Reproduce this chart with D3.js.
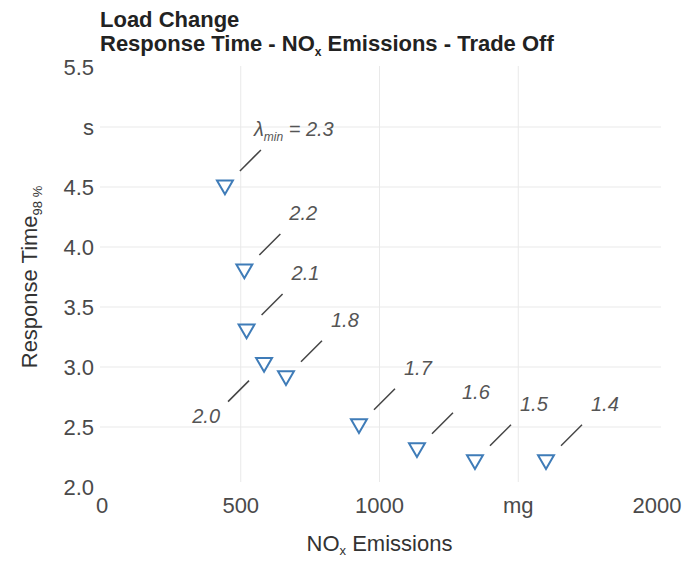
<!DOCTYPE html>
<meta charset="utf-8">

<script src="https://d3js.org/d3.v7.min.js"></script>

<div id="chart"></div>

<style>
  body {
    margin: 0;
    background-color: white;
    font-family: "Liberation Sans", Arial, sans-serif;
  }
</style>

<script>

// values
var lambdas = ["2.3", "2.2", "2.1", "2.0", "1.8", "1.7", "1.6", "1.5", "1.4"]
var noxValues = [443, 513, 521, 584, 663, 926, 1135, 1344, 1600]
var timeValues = [4.5, 3.8, 3.3, 3.02, 2.91, 2.51, 2.31, 2.21, 2.21]

var xTicks = [0, 500, 1000, 1500, 2000]
var xTickLabels = ["0", "500", "1000", "mg", "2000"]
var yTicks = [2.0, 2.5, 3.0, 3.5, 4.0, 4.5, 5.0, 5.5]
var yTickLabels = ["2.0", "2.5", "3.0", "3.5", "4.0", "4.5", "s", "5.5"]

var width = 684, height = 562

var svg = d3.select("#chart").append("svg")
  .attr("width", width)
  .attr("height", height)

var x = d3.scaleLinear()
  .domain([0, 2000])
  .range([102, 657])

var y = d3.scaleLinear()
  .domain([2, 5.5])
  .range([487, 67])

// gridlines, only the inner ticks
svg.append("g")
  .selectAll("line")
  .data(yTicks.slice(1, -1))
  .enter()
  .append("line")
    .attr("x1", x(0) - 2)
    .attr("x2", x(2000) + 4)
    .attr("y1", function(d) { return y(d) })
    .attr("y2", function(d) { return y(d) })
    .attr("stroke", "#e9e9e9")
    .attr("stroke-width", 1)

svg.append("g")
  .selectAll("line")
  .data(xTicks.slice(1, -1))
  .enter()
  .append("line")
    .attr("x1", function(d) { return x(d) })
    .attr("x2", function(d) { return x(d) })
    .attr("y1", y(5.5) - 1)
    .attr("y2", y(2) - 5)
    .attr("stroke", "#e9e9e9")
    .attr("stroke-width", 1)

// tick labels
svg.append("g")
  .selectAll("text")
  .data(xTicks)
  .enter()
  .append("text")
    .attr("x", function(d) { return x(d) })
    .attr("y", 513)
    .attr("text-anchor", "middle")
    .attr("font-size", "22px")
    .attr("fill", "#4a4a4a")
    .text(function(d, i) { return xTickLabels[i] })

svg.append("g")
  .selectAll("text")
  .data(yTicks)
  .enter()
  .append("text")
    .attr("x", 94)
    .attr("y", function(d) { return y(d) + 8 })
    .attr("text-anchor", "end")
    .attr("font-size", "22px")
    .attr("fill", "#4a4a4a")
    .text(function(d, i) { return yTickLabels[i] })

// titles
var title = svg.append("text")
  .attr("x", 100)
  .attr("font-size", "22px")
  .attr("font-weight", "bold")
  .attr("fill", "#222")

title.append("tspan").attr("x", 100).attr("y", 27).text("Load Change")
title.append("tspan").attr("x", 100).attr("y", 51).text("Response Time - NO")
title.append("tspan").attr("dy", 5).attr("font-size", "12px").text("x")
title.append("tspan").attr("dy", -5).text(" Emissions - Trade Off")

// axis titles
var xTitle = svg.append("text")
  .attr("x", (x(0) + x(2000)) / 2)
  .attr("y", 551)
  .attr("text-anchor", "middle")
  .attr("font-size", "22px")
  .attr("fill", "#333")

xTitle.append("tspan").text("NO")
xTitle.append("tspan").attr("dy", 4).attr("font-size", "13px").text("x")
xTitle.append("tspan").attr("dy", -4).text(" Emissions")

var yTitle = svg.append("text")
  .attr("transform", "translate(37," + ((y(2) + y(5.5)) / 2) + ") rotate(-90)")
  .attr("text-anchor", "middle")
  .attr("font-size", "22px")
  .attr("fill", "#333")

yTitle.append("tspan").text("Response Time")
yTitle.append("tspan").attr("dy", 5).attr("font-size", "13px").text("98 %")

// leader lines and labels
var points = lambdas.map(function(l, i) {
  return {label: l, px: x(noxValues[i]), py: y(timeValues[i])}
})

var annot = svg.append("g")

points.forEach(function(p, i) {
  // the 2.0 label sits down-left, all others up-right
  var dir = p.label === "2.0" ? -1 : 1
  var x1 = p.px + dir * 15, y1 = p.py - dir * 16
  var x2 = p.px + dir * 36, y2 = p.py - dir * 37

  annot.append("line")
    .attr("x1", x1).attr("y1", y1)
    .attr("x2", x2).attr("y2", y2)
    .attr("stroke", "#444")
    .attr("stroke-width", 1.5)

  var t = annot.append("text")
    .attr("font-size", "20px")
    .attr("font-style", "italic")
    .attr("fill", "#555")

  if (dir < 0) {
    t.attr("x", x2 - 8).attr("y", y2 + 21).attr("text-anchor", "end").text(p.label)
  } else if (i === 0) {
    t.attr("x", x2 - 7).attr("y", y2 - 14)
    t.append("tspan").text("λ")
    t.append("tspan").attr("dy", 5).attr("font-size", "12px").text("min")
    t.append("tspan").attr("dy", -5).text(" = " + p.label)
  } else {
    t.attr("x", x2 + 9).attr("y", y2 - 14).text(p.label)
  }
})

// markers, downward triangles
svg.append("g")
  .selectAll("path")
  .data(points)
  .enter()
  .append("path")
    .attr("d", d3.symbol().type(d3.symbolTriangle).size(110))
    .attr("transform", function(d) { return "translate(" + d.px + "," + (d.py - 2) + ") rotate(180)" })
    .attr("fill", "white")
    .attr("stroke", "#3f7cb8")
    .attr("stroke-width", 2)

</script>
